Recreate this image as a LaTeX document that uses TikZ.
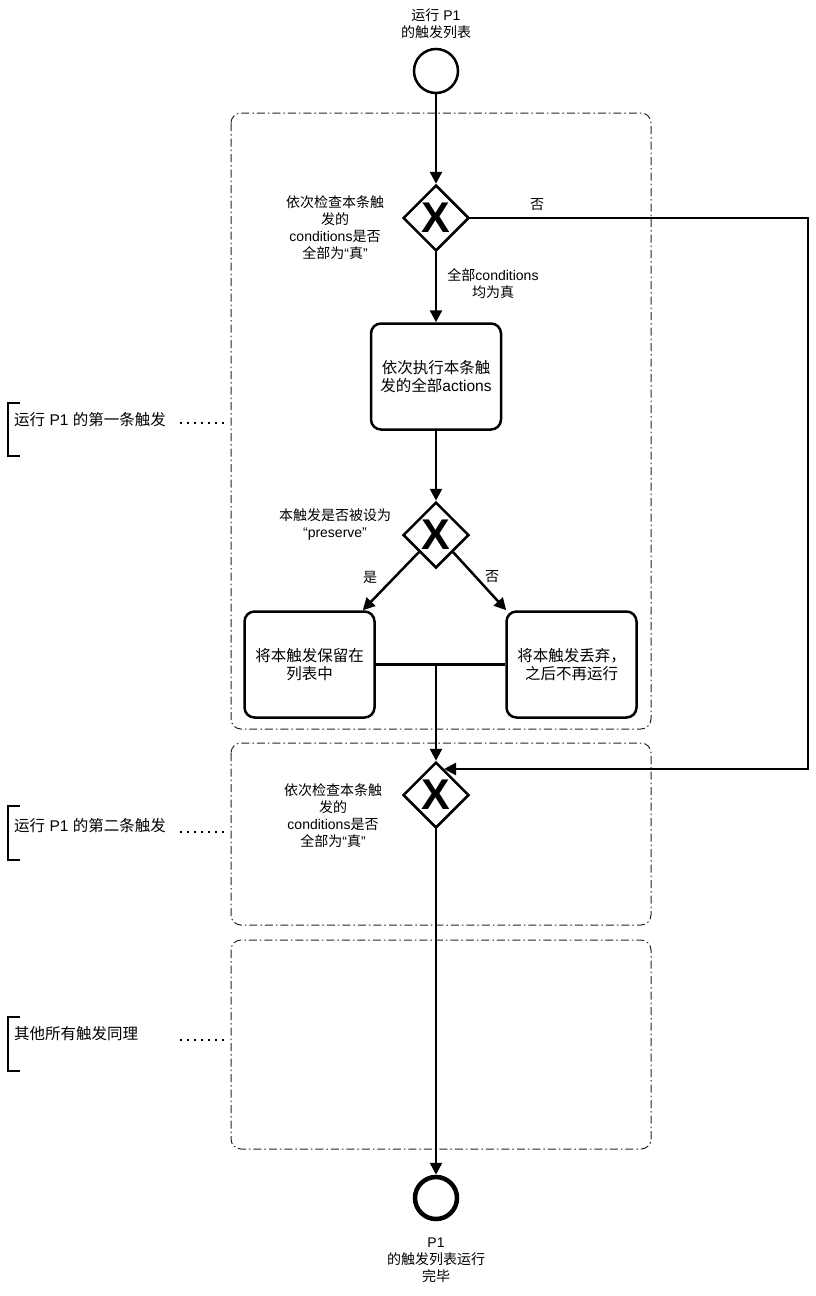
\documentclass[tikz,border=0pt]{standalone}
\usepackage{fontspec}
\setmainfont{Liberation Sans}
\newfontfamily\zh{Noto Sans CJK SC}
\newfontfamily\xfont{Liberation Sans}
\usetikzlibrary{arrows.meta,shapes.geometric,calc}
\tikzset{
  lbl/.style={align=center, inner sep=0pt, font=\fontsize{14}{17}\selectfont},
  blbl/.style={anchor=west, inner sep=0pt, font=\fontsize{15.5}{18}\selectfont},
  task/.style={draw, line width=2.5pt, rounded corners=10pt, minimum width=130pt, minimum height=106pt, align=center, inner sep=0pt, font=\fontsize{15.5}{18}\selectfont},
  gw/.style={draw, diamond, aspect=1, line width=2.5pt, minimum size=66pt, inner sep=0pt},
  xmark/.style={inner sep=0pt, font=\xfont\bfseries\fontsize{43}{43}\selectfont},
  flow/.style={line width=2.5pt, -{Triangle[length=12pt,width=12pt]}},
  plain/.style={line width=2.5pt},
  grp/.style={draw=black!85, line width=1pt, rounded corners=10pt, dash pattern=on 8pt off 3pt on 1.5pt off 3pt},
  brk/.style={line width=2.5pt},
  assoc/.style={line width=2.5pt, dash pattern=on 2pt off 5pt}
}
\begin{document}
\begin{tikzpicture}[x=1pt,y=-1pt]
\fill[white] (0,0) rectangle (816,1296);
\useasboundingbox (0,0) rectangle (816,1296);

% groups
\draw[grp] (231,113) rectangle (651,729);
\draw[grp] (231,743) rectangle (651,925);
\draw[grp] (231,940) rectangle (651,1149);

% events
\node[circle, draw, line width=2.5pt, minimum size=44pt, inner sep=0pt] (start) at (436,71) {};
\node[lbl] (startlbl) at (436,24) {{\zh 运行} P1\\{\zh 的触发列表}};
\node[circle, draw, line width=4.5pt, minimum size=42pt, inner sep=0pt] (end) at (436,1198) {};
\node[lbl] (endlbl) at (436,1260) {P1\\{\zh 的触发列表运行}\\{\zh 完毕}};

% gateways
\node[gw] (g1) at (436,218) {};
\node[xmark] (x1) at (g1) {X};
\node[gw] (g2) at (436,535) {};
\node[xmark] (x2) at (g2) {X};
\node[gw] (g3) at (436,795) {};
\node[xmark] (x3) at (g3) {X};

\node[lbl] (g1lbl) at (335,228) {{\zh 依次检查本条触}\\{\zh 发的}\\conditions{\zh 是否}\\{\zh 全部为}“{\zh 真}”};
\node[lbl] (g2lbl) at (335,525) {{\zh 本触发是否被设为}\\“preserve”};
\node[lbl] (g3lbl) at (333,816) {{\zh 依次检查本条触}\\{\zh 发的}\\conditions{\zh 是否}\\{\zh 全部为}“{\zh 真}”};

% tasks
\node[task] (t1) at (436,376.5) {{\zh 依次执行本条触}\\{\zh 发的全部}actions};
\node[task] (t2) at (309.5,664.5) {{\zh 将本触发保留在}\\{\zh 列表中}};
\node[task] (t3) at (571.5,664.5) {{\zh 将本触发丢弃，}\\{\zh 之后不再运行}};

% flows
\draw[flow] (start) -- (g1);
\draw[flow] (g1) -- (t1);
\node[lbl] (yes1) at (493,284) {{\zh 全部}conditions\\{\zh 均为真}};
\draw[flow] (t1) -- (g2);
\draw[flow] (g2.south west) -- ($(t2.north east)+(-13,0)$);
\draw[flow] (g2.south east) -- ($(t3.north west)+(1,0)$);
\node[lbl] (yes2) at (370,577) {\zh 是};
\node[lbl] (no2) at (492,577) {\zh 否};
\coordinate (m) at (t2.east -| g3.north);
\draw[plain] (t2.east) -- (t3.west);
\draw[flow] (m) -- (g3.north);
\coordinate (r) at (808,500);
\draw[flow] (g1.east) -| (r) |- ($(g3.center)+(8,-26)$);
\node[lbl] (no1) at (537,205) {\zh 否};
\draw[flow] (g3) -- (end);

% annotations
\draw[brk] (20,403) -- (8,403) -- (8,456) -- (20,456);
\node[blbl] (a1) at (14,420) {{\zh 运行} P1 {\zh 的第一条触发}};
\draw[assoc] (180,423) -- (228,423);
\draw[brk] (20,806) -- (8,806) -- (8,860) -- (20,860);
\node[blbl] (a2) at (14,826) {{\zh 运行} P1 {\zh 的第二条触发}};
\draw[assoc] (180,832) -- (228,832);
\draw[brk] (20,1017) -- (8,1017) -- (8,1071) -- (20,1071);
\node[blbl] (a3) at (14,1034) {\zh 其他所有触发同理};
\draw[assoc] (180,1040) -- (228,1040);
\end{tikzpicture}
\end{document}
